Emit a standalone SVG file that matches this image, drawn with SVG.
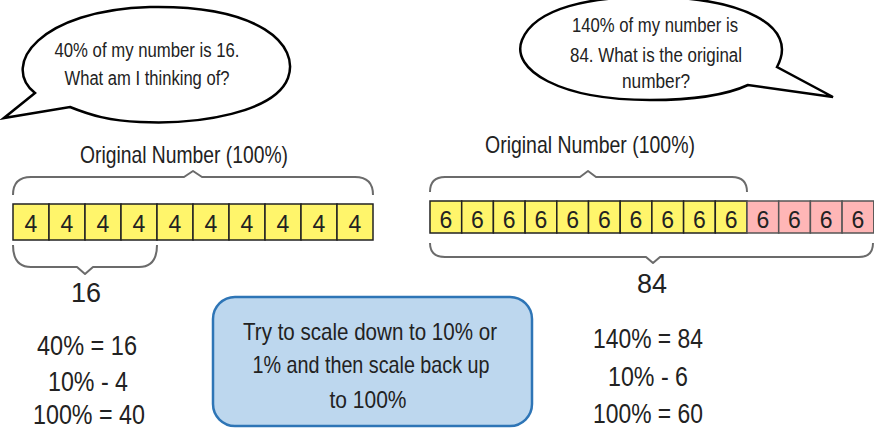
<svg xmlns="http://www.w3.org/2000/svg" width="874" height="429" viewBox="0 0 874 429">
<style>
text{font-family:"Liberation Sans",Arial,sans-serif;fill:#222;text-anchor:middle}
.bub{fill:#fff;stroke:#000;stroke-width:2.5;stroke-linejoin:miter}
.brace{fill:none;stroke:#6b6b6b;stroke-width:2;stroke-linejoin:round}
.y{fill:#fff56b;stroke:#222;stroke-width:1.5}
.p{fill:#ffb6b6;stroke:#555;stroke-width:1.5}
.t{font-size:20px}
.lab{font-size:24px}
.eq{font-size:27px}
.cell{font-size:23px}
</style>
<g id="bubble-left">
<path class="bub" d="M35,93 C0,65 40,10 150,7 C260,5 300,45 288,78 C275,112 200,125 140,122 C110,121 90,115 70,107 L4,118 Z"/>
<text class="t" x="147" y="57" textLength="185" lengthAdjust="spacingAndGlyphs">40% of my number is 16.</text>
<text class="t" x="147" y="85" textLength="165" lengthAdjust="spacingAndGlyphs">What am I thinking of?</text>
</g>
<g id="bubble-right">
<path class="bub" d="M748,85 C720,98 680,100 650,100 C560,100 510,70 522,40 C535,8 590,-4 655,-3 C740,-2 800,25 777,67 L833,97 Z"/>
<text class="t" x="655" y="32" textLength="166" lengthAdjust="spacingAndGlyphs">140% of my number is</text>
<text class="t" x="656" y="62" textLength="172" lengthAdjust="spacingAndGlyphs">84. What is the original</text>
<text class="t" x="656" y="88" textLength="68" lengthAdjust="spacingAndGlyphs">number?</text>
</g>
<g id="bar-left">
<text class="lab" x="184" y="163" textLength="208" lengthAdjust="spacingAndGlyphs">Original Number (100%)</text>
<rect class="y" x="13" y="204" width="36" height="36"/><text class="cell" x="31" y="232">4</text>
<rect class="y" x="49" y="204" width="36" height="36"/><text class="cell" x="67" y="232">4</text>
<rect class="y" x="85" y="204" width="36" height="36"/><text class="cell" x="103" y="232">4</text>
<rect class="y" x="121" y="204" width="36" height="36"/><text class="cell" x="139" y="232">4</text>
<rect class="y" x="157" y="204" width="36" height="36"/><text class="cell" x="175" y="232">4</text>
<rect class="y" x="193" y="204" width="36" height="36"/><text class="cell" x="211" y="232">4</text>
<rect class="y" x="229" y="204" width="36" height="36"/><text class="cell" x="247" y="232">4</text>
<rect class="y" x="265" y="204" width="36" height="36"/><text class="cell" x="283" y="232">4</text>
<rect class="y" x="301" y="204" width="36" height="36"/><text class="cell" x="319" y="232">4</text>
<rect class="y" x="337" y="204" width="36" height="36"/><text class="cell" x="355" y="232">4</text>
<text class="eq" x="86" y="302">16</text>
</g>
<g id="bar-right">
<text class="lab" x="590" y="153" textLength="210" lengthAdjust="spacingAndGlyphs">Original Number (100%)</text>
<rect class="y" x="430" y="201" width="31.7" height="32"/><text class="cell" x="445.8" y="228">6</text>
<rect class="y" x="461.7" y="201" width="31.7" height="32"/><text class="cell" x="477.5" y="228">6</text>
<rect class="y" x="493.4" y="201" width="31.7" height="32"/><text class="cell" x="509.2" y="228">6</text>
<rect class="y" x="525.1" y="201" width="31.7" height="32"/><text class="cell" x="540.9" y="228">6</text>
<rect class="y" x="556.8" y="201" width="31.7" height="32"/><text class="cell" x="572.6" y="228">6</text>
<rect class="y" x="588.5" y="201" width="31.7" height="32"/><text class="cell" x="604.3" y="228">6</text>
<rect class="y" x="620.2" y="201" width="31.7" height="32"/><text class="cell" x="636" y="228">6</text>
<rect class="y" x="651.9" y="201" width="31.7" height="32"/><text class="cell" x="667.7" y="228">6</text>
<rect class="y" x="683.6" y="201" width="31.7" height="32"/><text class="cell" x="699.4" y="228">6</text>
<rect class="y" x="715.3" y="201" width="31.7" height="32"/><text class="cell" x="731.1" y="228">6</text>
<rect class="p" x="747" y="201" width="31.7" height="32"/><text class="cell" x="762.8" y="228">6</text>
<rect class="p" x="778.7" y="201" width="31.7" height="32"/><text class="cell" x="794.5" y="228">6</text>
<rect class="p" x="810.4" y="201" width="31.7" height="32"/><text class="cell" x="826.2" y="228">6</text>
<rect class="p" x="842.1" y="201" width="31.7" height="32"/><text class="cell" x="857.9" y="228">6</text>
<text class="eq" x="652" y="293">84</text>
</g>
<g id="connectors">
<path class="brace" d="M13,195 Q13,177 31,177 L184,177 L193,171 L202,177 L355,177 Q373,177 373,195"/>
<path class="brace" d="M13,245 Q13,267 31,267 L77,267 L85,274 L93,267 L139,267 Q157,267 157,245"/>
<path class="brace" d="M430,192 Q430,177 445,177 L580,177 L588,171 L596,177 L732,177 Q747,177 747,192"/>
<path class="brace" d="M430,243 Q430,257 445,257 L646,257 L653,263 L660,257 L859,257 Q873,257 873,243"/>
</g>
<g id="hint-box">
<rect x="213" y="297" width="319" height="129" rx="22" ry="22" fill="#bdd7ee" stroke="#2e75b6" stroke-width="2.5"/>
<text class="lab" x="370" y="340" textLength="254" lengthAdjust="spacingAndGlyphs">Try to scale down to 10% or</text>
<text class="lab" x="371" y="373" textLength="237" lengthAdjust="spacingAndGlyphs">1% and then scale back up</text>
<text class="lab" x="368" y="408" textLength="77" lengthAdjust="spacingAndGlyphs">to 100%</text>
</g>
<g id="calc-left">
<text class="eq" x="87" y="355" textLength="100" lengthAdjust="spacingAndGlyphs">40% = 16</text>
<text class="eq" x="88" y="391" textLength="80" lengthAdjust="spacingAndGlyphs">10% - 4</text>
<text class="eq" x="89" y="424" textLength="112" lengthAdjust="spacingAndGlyphs">100% = 40</text>
</g>
<g id="calc-right">
<text class="eq" x="648" y="348" textLength="110" lengthAdjust="spacingAndGlyphs">140% = 84</text>
<text class="eq" x="648" y="386" textLength="80" lengthAdjust="spacingAndGlyphs">10% - 6</text>
<text class="eq" x="648" y="423" textLength="110" lengthAdjust="spacingAndGlyphs">100% = 60</text>
</g>
</svg>
